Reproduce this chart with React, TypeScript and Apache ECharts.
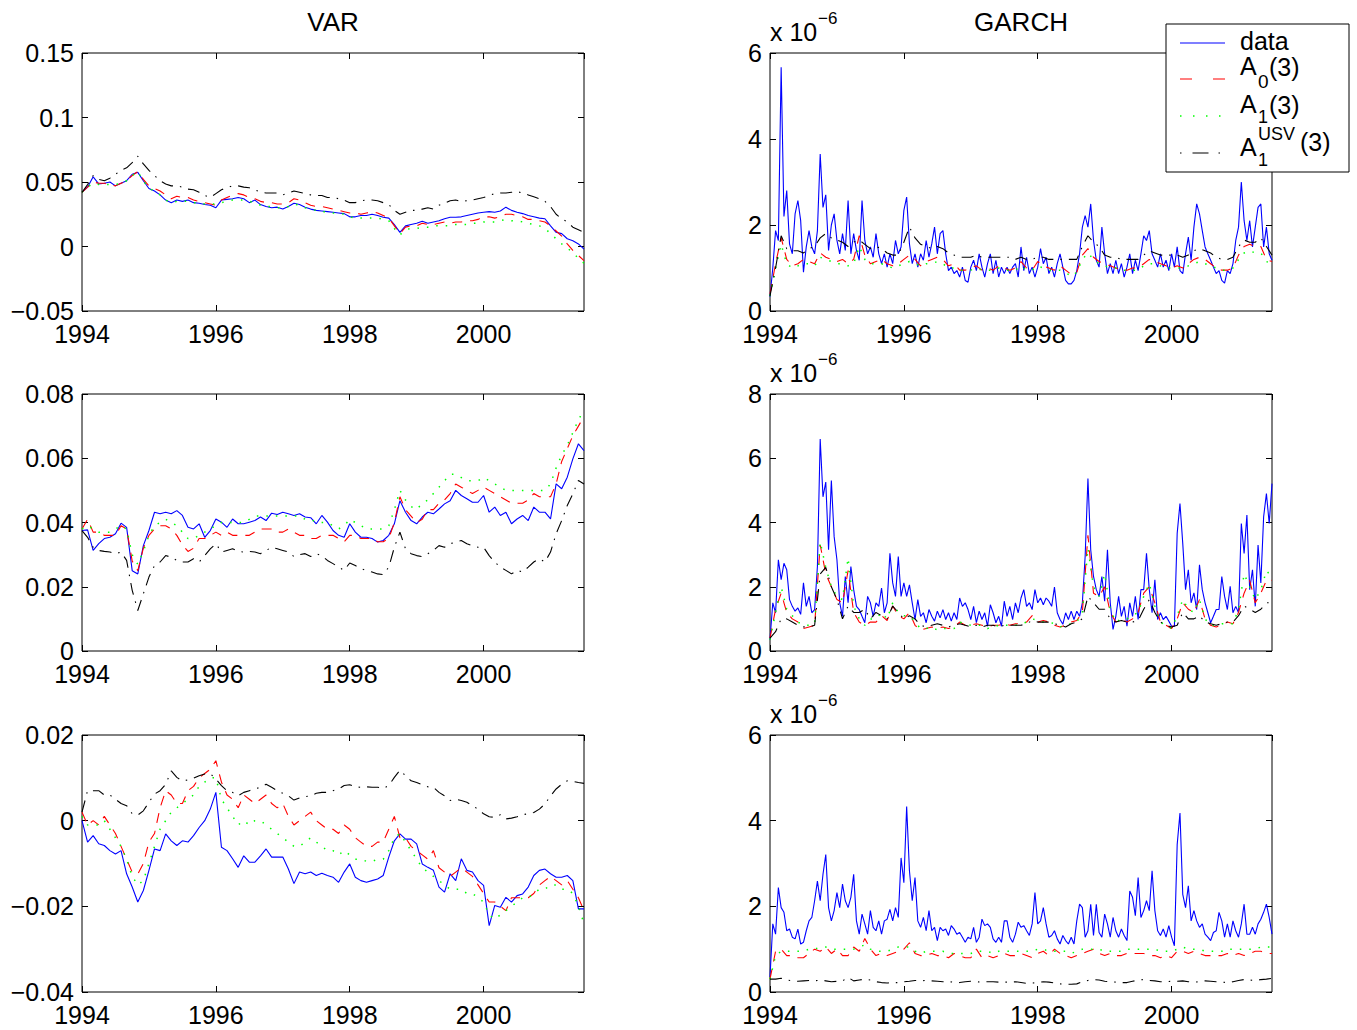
import React, { useEffect, useRef } from "react";
import * as echarts from "echarts";

// ---------- time axis ----------
const START_YEAR = 1994;
const END_YEAR = 2001.5;
const MONTH = 1 / 12; // step of monthly arrays
const HALF_MONTH = 1 / 24; // step of half-monthly arrays
const X_TICKS = [1994, 1996, 1998, 2000];

// ---------- VAR, top panel (monthly, 1994.0 .. 2001.5) ----------
const varTopData = [
  0.042, 0.046, 0.054, 0.0485, 0.049, 0.05, 0.047, 0.049, 0.051, 0.056, 0.0575, 0.051,
  0.045, 0.043, 0.04, 0.036, 0.034, 0.036, 0.035, 0.036, 0.034, 0.0335, 0.0325, 0.032,
  0.03, 0.036, 0.0365, 0.037, 0.038, 0.037, 0.034, 0.036, 0.0325, 0.031, 0.03, 0.0305,
  0.029, 0.031, 0.0335, 0.0325, 0.0305, 0.029, 0.028, 0.0275, 0.027, 0.0265, 0.026, 0.0255,
  0.023, 0.023, 0.024, 0.024, 0.025, 0.024, 0.0227, 0.022, 0.017, 0.011, 0.016, 0.017,
  0.018, 0.0195, 0.018, 0.019, 0.02, 0.0215, 0.0227, 0.0227, 0.023, 0.024, 0.025, 0.026,
  0.0265, 0.027, 0.0265, 0.0275, 0.0305, 0.028, 0.0265, 0.0255, 0.024, 0.023, 0.022, 0.0215,
  0.016, 0.011, 0.01, 0.006, 0.0045, 0.002, -0.002,
];
const varTopA0 = [
  0.042, 0.046, 0.05, 0.049, 0.049, 0.048, 0.047, 0.049, 0.051, 0.055, 0.058, 0.052,
  0.047, 0.045, 0.043, 0.04, 0.037, 0.039, 0.038, 0.038, 0.036, 0.035, 0.034, 0.033,
  0.032, 0.036, 0.038, 0.04, 0.041, 0.04, 0.038, 0.037, 0.035, 0.034, 0.034, 0.033,
  0.033, 0.034, 0.037, 0.036, 0.034, 0.032, 0.031, 0.031, 0.03, 0.029, 0.028, 0.027,
  0.026, 0.026, 0.025, 0.026, 0.027, 0.026, 0.024, 0.022, 0.016, 0.01, 0.015, 0.016,
  0.016, 0.018, 0.017, 0.017, 0.018, 0.019, 0.018, 0.019, 0.019, 0.02, 0.02, 0.021,
  0.023, 0.023, 0.022, 0.023, 0.025, 0.025, 0.024, 0.023, 0.021, 0.021, 0.02, 0.019,
  0.016, 0.012, 0.008, 0.002, -0.003, -0.007, -0.011,
];
const varTopA1 = [
  0.042, 0.046, 0.049, 0.048, 0.048, 0.048, 0.048, 0.049, 0.051, 0.055, 0.058, 0.051,
  0.045, 0.043, 0.04, 0.036, 0.034, 0.035, 0.035, 0.035, 0.034, 0.034, 0.033, 0.033,
  0.033, 0.034, 0.035, 0.036, 0.036, 0.036, 0.035, 0.034, 0.032, 0.031, 0.031, 0.03,
  0.03, 0.031, 0.033, 0.032, 0.03, 0.029, 0.028, 0.027, 0.027, 0.026, 0.026, 0.025,
  0.023, 0.022, 0.022, 0.022, 0.022, 0.022, 0.021, 0.02, 0.014, 0.009, 0.013, 0.014,
  0.014, 0.015, 0.015, 0.016, 0.016, 0.016, 0.016, 0.017, 0.017, 0.017, 0.018, 0.018,
  0.019, 0.019, 0.019, 0.02, 0.021, 0.02, 0.02, 0.019, 0.018, 0.017, 0.016, 0.014,
  0.01, 0.006, 0.002, -0.001, -0.005, -0.009, -0.013,
];
const varTopUSV = [
  0.042, 0.048, 0.055, 0.052, 0.051, 0.053, 0.056, 0.059, 0.061, 0.065, 0.07, 0.064,
  0.059, 0.055, 0.051, 0.0485, 0.047, 0.047, 0.046, 0.0445, 0.044, 0.042, 0.0395, 0.038,
  0.041, 0.044, 0.0455, 0.047, 0.047, 0.046, 0.0455, 0.044, 0.042, 0.0415, 0.0415, 0.0415,
  0.04, 0.0415, 0.043, 0.042, 0.041, 0.04, 0.0395, 0.0395, 0.038, 0.038, 0.037, 0.036,
  0.034, 0.034, 0.0355, 0.036, 0.036, 0.0355, 0.034, 0.0325, 0.028, 0.025, 0.0265, 0.028,
  0.028, 0.029, 0.03, 0.029, 0.032, 0.0335, 0.0355, 0.036, 0.035, 0.0355, 0.036, 0.037,
  0.038, 0.0395, 0.041, 0.0415, 0.0415, 0.042, 0.0425, 0.0415, 0.04, 0.0385, 0.037, 0.035,
  0.031, 0.025, 0.0215, 0.019, 0.015, 0.013, 0.011,
];

// ---------- VAR, middle panel ----------
const varMidData = [
  0.0375, 0.0377, 0.0313, 0.0334, 0.035, 0.0354, 0.0365, 0.0398, 0.0385, 0.025, 0.024, 0.0328,
  0.0375, 0.0432, 0.0427, 0.0432, 0.0427, 0.0437, 0.0422, 0.0385, 0.038, 0.0396, 0.0354, 0.0375,
  0.0411, 0.0401, 0.0385, 0.0411, 0.0396, 0.0396, 0.0401, 0.0406, 0.0417, 0.0406, 0.0429, 0.0425,
  0.0432, 0.0427, 0.0422, 0.0427, 0.0417, 0.0415, 0.0396, 0.0422, 0.0401, 0.0375, 0.036, 0.0354,
  0.0396, 0.037, 0.0354, 0.0354, 0.035, 0.0339, 0.0344, 0.036, 0.0396, 0.0468, 0.0432, 0.0406,
  0.0396, 0.0417, 0.0432, 0.0427, 0.0442, 0.0458, 0.0468, 0.05, 0.0484, 0.0474, 0.0463, 0.0463,
  0.0484, 0.0432, 0.0448, 0.0422, 0.0432, 0.0396, 0.0411, 0.0422, 0.0406, 0.0448, 0.0432, 0.0432,
  0.0411, 0.052, 0.0505, 0.0541, 0.0598, 0.0645, 0.0624,
];
const varMidA0 = [
  0.038, 0.041, 0.037, 0.037, 0.036, 0.036, 0.036, 0.039, 0.038, 0.028, 0.025, 0.032,
  0.036, 0.038, 0.039, 0.039, 0.038, 0.036, 0.033, 0.031, 0.032, 0.035, 0.035, 0.036,
  0.037, 0.036, 0.037, 0.036, 0.036, 0.036, 0.036, 0.037, 0.038, 0.038, 0.038, 0.037,
  0.037, 0.038, 0.037, 0.036, 0.036, 0.035, 0.035, 0.036, 0.036, 0.036, 0.035, 0.034,
  0.036, 0.036, 0.035, 0.035, 0.035, 0.034, 0.034, 0.035, 0.04, 0.048, 0.044, 0.042,
  0.04, 0.041, 0.044, 0.044, 0.046, 0.047, 0.049, 0.052, 0.051, 0.05, 0.049, 0.05,
  0.051, 0.05, 0.049, 0.048, 0.047, 0.046, 0.046, 0.046, 0.047, 0.049, 0.048, 0.048,
  0.048, 0.052, 0.059, 0.063, 0.067, 0.07, 0.073,
];
const varMidA1 = [
  0.038, 0.039, 0.038, 0.037, 0.037, 0.037, 0.038, 0.039, 0.038, 0.03, 0.027, 0.031,
  0.036, 0.039, 0.04, 0.041, 0.04, 0.039, 0.037, 0.035, 0.035, 0.036, 0.037, 0.038,
  0.039, 0.04, 0.04, 0.04, 0.04, 0.04, 0.041, 0.042, 0.042, 0.042, 0.042, 0.042,
  0.042, 0.042, 0.042, 0.042, 0.041, 0.041, 0.04, 0.04, 0.04, 0.039, 0.038, 0.039,
  0.041, 0.04, 0.039, 0.038, 0.038, 0.038, 0.038, 0.039, 0.044, 0.05, 0.047, 0.045,
  0.044, 0.046, 0.047, 0.049, 0.051, 0.053, 0.055, 0.055, 0.054, 0.053, 0.053, 0.053,
  0.054, 0.053, 0.052, 0.051, 0.05, 0.05, 0.05, 0.05, 0.05, 0.05, 0.05, 0.05,
  0.052, 0.057, 0.061, 0.064, 0.068, 0.072, 0.075,
];
const varMidUSV = [
  0.0375, 0.0354, 0.0323, 0.0313, 0.031, 0.0308, 0.0303, 0.0308, 0.0282, 0.0189, 0.0126, 0.0178,
  0.023, 0.0266, 0.0277, 0.0297, 0.0292, 0.0282, 0.0277, 0.0277, 0.0287, 0.0277, 0.0297, 0.0318,
  0.0334, 0.0308, 0.0313, 0.0318, 0.031, 0.0308, 0.031, 0.0308, 0.0303, 0.0313, 0.0323, 0.0318,
  0.0313, 0.0308, 0.0294, 0.03, 0.0303, 0.0294, 0.0303, 0.0297, 0.0282, 0.0272, 0.0261, 0.0251,
  0.0274, 0.0266, 0.0256, 0.0251, 0.0246, 0.024, 0.0238, 0.0261, 0.0323, 0.037, 0.0318, 0.0303,
  0.0297, 0.0294, 0.0303, 0.0313, 0.0328, 0.0323, 0.0334, 0.0339, 0.0344, 0.0334, 0.0328, 0.0323,
  0.0323, 0.0297, 0.0277, 0.0261, 0.0251, 0.024, 0.0251, 0.0246, 0.0261, 0.0277, 0.0287, 0.0277,
  0.0308, 0.0365, 0.0406, 0.0453, 0.0489, 0.0531, 0.052,
];

// ---------- VAR, bottom panel ----------
const varBotData = [
  0, -0.005, -0.0035, -0.0054, -0.0058, -0.007, -0.0078, -0.007, -0.0124, -0.0155, -0.019, -0.0163,
  -0.0116, -0.0066, -0.007, -0.0031, -0.0047, -0.0058, -0.0047, -0.005, -0.0035, -0.0016, 0, 0.0027,
  0.0066, -0.0062, -0.007, -0.0089, -0.0109, -0.0082, -0.0097, -0.0097, -0.0082, -0.0066, -0.0085, -0.0085,
  -0.0085, -0.0113, -0.0147, -0.012, -0.0124, -0.012, -0.0128, -0.0123, -0.0128, -0.0132, -0.0144, -0.012,
  -0.0101, -0.0132, -0.014, -0.0144, -0.014, -0.0136, -0.0128, -0.0085, -0.0047, -0.0031, -0.0043, -0.0043,
  -0.0054, -0.0101, -0.0109, -0.0116, -0.0155, -0.0167, -0.0124, -0.014, -0.0089, -0.0116, -0.012, -0.014,
  -0.0151, -0.0245, -0.0198, -0.0202, -0.0179, -0.019, -0.0175, -0.0171, -0.0155, -0.0128, -0.0116, -0.0113,
  -0.0124, -0.0132, -0.0132, -0.0128, -0.014, -0.0206, -0.0206,
];
const varBotA0 = [
  0.002, -0.001, 0, -0.001, 0.001, -0.001, -0.003, -0.006, -0.009, -0.012, -0.0125, -0.01,
  -0.005, -0.003, 0.003, 0.007, 0.006, 0.004, 0.004, 0.007, 0.008, 0.01, 0.011, 0.012,
  0.014, 0.009, 0.006, 0.005, 0.003, 0.006, 0.005, 0.004, 0.005, 0.006, 0.004, 0.003,
  0.004, 0.001, -0.001, 0, 0.001, 0.002, 0, -0.001, -0.002, -0.002, -0.003, -0.001,
  -0.002, -0.004, -0.005, -0.006, -0.006, -0.005, -0.005, -0.002, 0.001, -0.004, -0.004, -0.006,
  -0.007, -0.008, -0.009, -0.007, -0.011, -0.012, -0.013, -0.012, -0.011, -0.012, -0.013, -0.015,
  -0.017, -0.019, -0.019, -0.02, -0.021, -0.018, -0.018, -0.018, -0.018, -0.017, -0.015, -0.014,
  -0.013, -0.014, -0.015, -0.014, -0.016, -0.018, -0.021,
];
const varBotA1 = [
  0.001, -0.001, -0.001, -0.001, 0, -0.002, -0.004, -0.006, -0.009, -0.013, -0.015, -0.014,
  -0.01, -0.006, -0.002, 0, 0.002, 0.003, 0.004, 0.005, 0.006, 0.008, 0.009, 0.01,
  0.01, 0.005, 0.003, 0.001, -0.001, 0, -0.001, 0, 0, -0.001, -0.002, -0.003,
  -0.004, -0.005, -0.006, -0.006, -0.005, -0.004, -0.005, -0.006, -0.007, -0.007, -0.008, -0.007,
  -0.008, -0.009, -0.009, -0.0095, -0.0095, -0.009, -0.009, -0.007, -0.004, -0.003, -0.005, -0.007,
  -0.009, -0.011, -0.012, -0.013, -0.014, -0.015, -0.016, -0.016, -0.016, -0.017, -0.017, -0.018,
  -0.019, -0.022, -0.023, -0.022, -0.021, -0.02, -0.019, -0.018, -0.018, -0.017, -0.016, -0.016,
  -0.015, -0.015, -0.016, -0.016, -0.017, -0.02, -0.024,
];
const varBotUSV = [
  0.002, 0.007, 0.007, 0.007, 0.006, 0.006, 0.005, 0.004, 0.0035, 0.0016, 0.0013, 0.0023,
  0.0043, 0.0062, 0.007, 0.0085, 0.0116, 0.0101, 0.0093, 0.0095, 0.0099, 0.0105, 0.0109, 0.011,
  0.0097, 0.0082, 0.007, 0.0066, 0.0058, 0.0066, 0.007, 0.0074, 0.0078, 0.0085, 0.0078, 0.007,
  0.0064, 0.0058, 0.0048, 0.0053, 0.0056, 0.0058, 0.0064, 0.0066, 0.0066, 0.007, 0.0074, 0.0082,
  0.0084, 0.0079, 0.0078, 0.0079, 0.0078, 0.0078, 0.0075, 0.0082, 0.0101, 0.0118, 0.0105, 0.0093,
  0.0089, 0.0084, 0.0079, 0.0078, 0.0066, 0.0058, 0.0047, 0.005, 0.0047, 0.0043, 0.0035, 0.0027,
  0.0016, 0.0009, 0.0008, 0.0014, 0.0004, 0.0006, 0.0009, 0.0014, 0.0016, 0.0019, 0.0027, 0.0039,
  0.0058, 0.0074, 0.0085, 0.0093, 0.0092, 0.0089, 0.0087,
];

// ---------- GARCH, top panel (values in units of 1e-6) ----------
const garchTopData = [ // half-monthly
  0.33, 1.0, 1.87, 1.64, 5.67, 2.2, 2.8, 1.56, 1.33, 2.26, 2.57, 2.1, 0.9, 1.49, 1.87, 1.49, 1.33, 1.87, 3.65, 2.41, 2.7, 1.41, 2.0, 2.26,
  1.64, 1.33, 1.8, 1.41, 2.57, 1.33, 1.8, 1.41, 1.18, 2.57, 1.64, 1.33, 1.49, 1.25, 1.8, 1.33, 1.1, 1.33, 1.02, 1.33, 1.1, 1.64, 1.33, 1.49,
  2.34, 2.65, 1.56, 1.1, 1.33, 1.02, 1.33, 1.18, 1.64, 1.25, 1.56, 1.95, 1.33, 1.8, 1.87, 1.33, 0.94, 1.02, 0.87, 0.94, 0.79, 1.02, 0.71, 0.67,
  1.02, 1.18, 0.94, 1.33, 1.02, 0.79, 1.1, 1.33, 0.87, 1.18, 0.79, 1.02, 0.87, 1.02, 0.87, 1.02, 1.1, 0.79, 1.49, 0.94, 1.25, 0.87, 1.02, 0.79,
  1.02, 1.45, 1.1, 1.25, 0.87, 1.02, 0.79, 1.1, 1.33, 1.02, 0.71, 0.63, 0.63, 0.71, 0.94, 1.33, 1.95, 2.22, 1.95, 2.49, 1.64, 1.18, 1.02, 1.95,
  1.33, 0.87, 1.1, 0.87, 1.18, 0.87, 1.1, 0.79, 1.02, 1.33, 0.87, 1.18, 0.94, 1.33, 1.75, 1.64, 1.87, 1.33, 1.18, 1.02, 1.33, 1.02, 1.18, 0.94,
  1.33, 1.02, 1.49, 0.94, 0.87, 1.33, 1.72, 1.18, 1.95, 2.49, 2.26, 1.87, 1.49, 1.33, 1.18, 1.02, 0.87, 0.94, 0.71, 0.65, 0.94, 0.87, 1.1, 1.64,
  1.95, 3.0, 2.1, 1.64, 2.1, 1.49, 1.95, 2.41, 2.49, 1.49, 1.95, 1.33, 1.18,
];
const garchTopA0 = [ // monthly
  0.4, 1.1, 1.7, 1.2, 1.05, 1.1, 1.2, 1.15, 1.1, 1.35, 1.25, 1.2,
  1.15, 1.2, 1.1, 1.2, 1.75, 1.3, 1.1, 1.15, 1.2, 1.1, 1.05, 1.1,
  1.2, 1.3, 1.2, 1.05, 1.15, 1.2, 1.25, 1.2, 1.05, 1.1, 0.95, 0.95,
  1.0, 1.05, 0.95, 1.0, 0.95, 1.05, 1.0, 0.95, 1.0, 1.15, 1.0, 0.95,
  1.15, 1.05, 1.0, 0.95, 1.05, 0.95, 0.85, 0.9, 1.3, 1.45, 1.25, 1.15,
  1.1, 1.05, 1.0, 0.95, 0.95, 1.0, 1.0, 1.1, 1.2, 1.15, 1.1, 1.05,
  1.0, 1.05, 1.0, 1.1, 1.2, 1.25, 1.2, 1.1, 1.0, 0.95, 0.95, 1.0,
  1.3, 1.5, 1.55, 1.5, 1.5, 1.2, 1.15,
];
const garchTopA1 = [
  0.35, 1.0, 1.55, 1.1, 1.0, 1.05, 1.1, 1.1, 1.05, 1.25, 1.2, 1.15,
  1.1, 1.1, 1.05, 1.1, 1.5, 1.2, 1.1, 1.1, 1.1, 1.05, 1.0, 1.05,
  1.1, 1.15, 1.1, 1.05, 1.1, 1.1, 1.15, 1.1, 1.0, 1.0, 0.95, 0.95,
  0.95, 1.0, 0.95, 0.95, 0.95, 1.0, 0.95, 0.95, 0.95, 1.05, 0.95, 0.95,
  1.05, 1.0, 0.95, 0.95, 0.95, 0.9, 0.8, 0.9, 1.2, 1.35, 1.2, 1.1,
  1.05, 1.0, 1.0, 0.95, 0.95, 0.95, 0.95, 1.05, 1.1, 1.1, 1.05, 1.0,
  1.0, 1.0, 1.0, 1.05, 1.1, 1.15, 1.1, 1.05, 1.0, 0.95, 0.95, 1.0,
  1.2, 1.35, 1.4, 1.35, 1.35, 1.15, 1.1,
];
const garchTopUSV = [
  0.35, 1.0, 1.75, 1.45, 1.4, 1.4, 1.35, 1.45, 1.5, 1.7, 1.8, 1.7,
  1.65, 1.6, 1.5, 1.6, 1.65, 1.55, 1.45, 1.5, 1.45, 1.35, 1.3, 1.3,
  1.6, 1.95, 1.7, 1.55, 1.5, 1.45, 1.5, 1.45, 1.35, 1.3, 1.25, 1.25,
  1.25, 1.3, 1.25, 1.25, 1.25, 1.25, 1.25, 1.25, 1.2, 1.25, 1.2, 1.2,
  1.25, 1.25, 1.2, 1.2, 1.2, 1.2, 1.2, 1.2, 1.5, 1.75, 1.6, 1.5,
  1.3, 1.25, 1.25, 1.2, 1.2, 1.2, 1.2, 1.3, 1.4, 1.35, 1.3, 1.3,
  1.3, 1.3, 1.25, 1.3, 1.4, 1.45, 1.4, 1.35, 1.25, 1.2, 1.2, 1.25,
  1.5, 1.65, 1.6, 1.6, 1.7, 1.5, 1.3,
];

// ---------- GARCH, middle panel (units of 1e-6) ----------
const garchMidData = [ // half-monthly
  0.36, 1.5, 1.19, 2.84, 2.22, 2.73, 2.53, 1.6, 1.39, 1.24, 1.34, 1.14, 2.12, 1.39, 1.7, 1.19, 1.29, 2.63, 6.6, 4.8, 5.26, 3.15, 5.31, 3.56,
  2.84, 1.5, 1.08, 2.32, 1.5, 2.63, 1.91, 1.39, 1.29, 1.08, 0.88, 1.7, 1.5, 1.08, 1.5, 1.39, 1.96, 1.19, 1.5, 3.04, 2.12, 1.7, 2.94, 1.7,
  2.12, 1.7, 2.06, 1.5, 0.98, 1.6, 1.08, 1.19, 0.88, 1.29, 1.08, 0.93, 1.24, 1.03, 1.29, 0.98, 1.19, 0.93, 1.19, 0.98, 1.65, 1.39, 1.5, 1.29,
  0.98, 1.39, 0.88, 1.24, 0.98, 1.19, 0.77, 1.44, 1.19, 0.88, 1.08, 0.77, 1.55, 1.08, 1.39, 0.98, 1.5, 1.19, 1.65, 1.91, 1.39, 1.5, 1.29, 1.91,
  1.5, 1.65, 1.44, 1.65, 1.55, 1.39, 1.99, 1.19, 0.98, 0.83, 1.19, 0.98, 1.24, 0.98, 1.24, 1.08, 1.5, 2.94, 5.37, 3.15, 2.32, 1.91, 1.7, 2.32,
  1.55, 3.15, 1.5, 0.67, 1.08, 1.7, 1.08, 1.39, 0.77, 1.5, 1.08, 1.7, 0.98, 1.91, 1.91, 3.04, 1.91, 1.19, 2.22, 0.98, 1.19, 0.98, 1.08, 0.93,
  0.77, 0.77, 3.66, 4.59, 3.35, 1.91, 2.53, 1.5, 1.81, 1.29, 2.68, 1.91, 1.5, 1.19, 0.88, 1.08, 1.29, 1.29, 2.32, 1.7, 1.29, 2.01, 1.19, 1.39,
  1.19, 3.97, 3.04, 4.23, 1.91, 2.53, 1.39, 3.3, 2.12, 4.18, 4.9, 3.97, 5.21,
];
const garchMidA0 = [
  0.4, 1.3, 1.8, 1.2, 1.0, 0.9, 0.7, 0.75, 0.8, 3.3, 2.4, 2.0,
  1.6, 1.5, 2.5, 1.2, 0.9, 0.8, 0.9, 0.9, 1.1, 0.95, 1.4, 1.1,
  1.0, 1.2, 0.8, 0.65, 0.7, 0.75, 0.7, 0.75, 0.7, 0.75, 0.9, 0.8,
  0.8, 0.85, 0.8, 0.75, 0.8, 0.8, 0.85, 0.8, 0.85, 0.85, 0.9, 1.1,
  0.9, 0.95, 0.9, 0.8, 0.75, 0.8, 0.9, 0.95, 1.2, 3.6, 1.8, 1.7,
  2.0, 1.2, 0.9, 1.0, 0.9, 1.0, 1.2, 1.8, 2.0, 1.5, 0.9, 0.8,
  0.7, 1.0, 1.5, 1.3, 1.2, 1.6, 1.0, 0.8, 0.75, 0.8, 0.9, 0.85,
  1.2, 1.8, 2.2, 1.5, 1.8, 2.2, 2.2,
];
const garchMidA1 = [
  0.35, 1.2, 2.0, 1.3, 1.1, 0.9, 0.8, 0.8, 0.85, 3.4, 2.6, 2.0,
  1.7, 1.6, 2.9, 1.4, 1.0, 0.8, 1.0, 1.0, 1.2, 1.0, 1.5, 1.2,
  1.1, 1.1, 0.9, 0.7, 0.7, 0.75, 0.65, 0.7, 0.7, 0.7, 0.9, 0.85,
  0.8, 0.8, 0.8, 0.7, 0.75, 0.8, 0.8, 0.8, 0.8, 0.85, 0.9, 1.0,
  0.95, 0.9, 0.9, 0.85, 0.75, 0.8, 0.85, 0.9, 1.2, 3.2, 2.0, 1.7,
  2.4, 1.3, 0.9, 1.0, 1.0, 1.1, 1.2, 1.7, 2.1, 1.4, 0.9, 0.8,
  0.7, 1.1, 1.6, 1.3, 1.2, 1.6, 1.0, 0.8, 0.8, 0.85, 0.85, 0.85,
  1.3, 2.4, 2.0, 1.6, 1.9, 2.5, 2.3,
];
const garchMidUSV = [
  0.4, 0.6, 1.0, 1.0, 0.9, 0.8, 0.75, 0.75, 0.8, 2.4, 2.6, 2.0,
  1.6, 1.0, 1.4, 1.2, 1.2, 1.3, 1.0, 1.2, 1.1, 1.0, 1.4, 1.2,
  1.0, 1.1, 1.0, 0.8, 0.75, 0.8, 0.85, 0.8, 0.75, 0.8, 0.85, 0.8,
  0.75, 0.8, 0.75, 0.8, 0.8, 0.75, 0.8, 0.8, 0.8, 0.8, 0.85, 0.95,
  0.9, 0.9, 0.9, 0.85, 0.8, 0.75, 0.85, 0.9, 1.0, 1.7, 1.5, 1.3,
  1.3, 1.0, 0.9, 0.95, 0.9, 0.9, 0.95, 1.3, 1.6, 1.2, 0.9, 0.8,
  0.75, 0.8, 1.2, 1.0, 1.0, 1.1, 0.9, 0.85, 0.8, 0.85, 0.9, 0.9,
  1.1, 1.4, 1.3, 1.2, 1.3, 1.5, 1.5,
];

// ---------- GARCH, bottom panel (units of 1e-6) ----------
const garchBotData = [ // half-monthly
  0.35, 1.59, 1.35, 2.44, 1.97, 1.86, 1.43, 1.47, 1.28, 1.24, 1.47, 1.12, 1.16, 1.43, 1.66, 1.74, 2.13, 2.59, 2.13, 2.75, 3.21, 1.97, 1.66, 1.9,
  2.32, 1.97, 2.52, 2.13, 1.97, 2.21, 2.75, 1.66, 1.35, 1.82, 1.59, 1.35, 1.9, 1.51, 1.43, 1.66, 1.35, 1.66, 1.7, 1.93, 1.66, 1.97, 1.74, 3.13,
  2.55, 4.33, 2.83, 2.13, 2.67, 1.66, 1.51, 1.74, 1.43, 1.9, 1.43, 1.51, 1.2, 1.51, 1.43, 1.47, 1.32, 1.55, 1.47, 1.35, 1.39, 1.28, 1.16, 1.28,
  1.24, 1.51, 1.16, 1.28, 1.7, 1.55, 1.59, 1.51, 1.24, 1.16, 1.28, 1.16, 1.66, 1.66, 1.28, 1.16, 1.35, 1.63, 1.51, 1.55, 1.43, 1.32, 1.59, 2.32,
  1.59, 1.66, 1.97, 1.59, 1.28, 1.32, 1.43, 1.24, 1.12, 1.32, 1.2, 1.12, 1.28, 1.12, 1.66, 2.05, 1.97, 1.28, 1.43, 2.05, 1.32, 2.05, 1.39, 1.28,
  1.82, 1.59, 1.28, 1.74, 1.43, 1.28, 1.47, 1.32, 1.2, 2.36, 2.21, 1.78, 2.67, 1.74, 1.9, 2.13, 1.9, 2.83, 1.9, 1.43, 1.32, 1.47, 1.28, 1.55,
  1.28, 1.08, 3.44, 4.18, 2.28, 1.97, 2.48, 1.66, 1.9, 1.66, 1.51, 1.59, 1.35, 1.28, 1.2, 1.39, 1.43, 1.86, 1.66, 1.28, 1.59, 1.28, 1.66, 1.43,
  1.28, 1.59, 2.05, 1.35, 1.35, 1.51, 1.35, 1.59, 1.7, 1.86, 2.05, 1.74, 1.35,
];
const garchBotA0 = [
  0.3, 0.95, 1.0, 0.85, 0.85, 0.8, 0.8, 0.9, 1.0, 0.95, 1.05, 0.9,
  1.0, 0.85, 0.85, 1.05, 0.95, 1.25, 1.0, 0.85, 0.9, 0.85, 0.9, 0.95,
  1.0, 1.15, 0.9, 0.85, 0.85, 0.9, 0.85, 0.85, 0.8, 0.9, 0.85, 0.8,
  0.8, 1.0, 0.8, 0.85, 0.8, 0.85, 0.9, 0.85, 0.85, 0.9, 0.85, 0.8,
  0.9, 0.95, 0.85, 1.0, 0.9, 0.85, 0.8, 0.85, 0.9, 0.95, 1.0, 0.9,
  0.85, 0.9, 0.85, 0.85, 0.9, 0.9, 0.9, 0.9, 0.85, 0.85, 0.8, 0.85,
  0.8, 0.95, 0.95, 0.9, 0.95, 0.9, 0.85, 0.85, 0.85, 0.85, 0.9, 0.85,
  0.9, 0.85, 0.9, 0.95, 0.95, 0.9, 0.9,
];
const garchBotA1 = [
  0.3, 0.85, 0.95, 0.95, 0.95, 0.95, 0.95, 1.0, 1.0, 1.05, 1.05, 1.0,
  1.0, 1.0, 1.0, 1.0, 1.05, 1.1, 1.0, 0.95, 0.95, 0.95, 1.0, 1.05,
  1.05, 1.05, 0.95, 0.9, 0.95, 0.95, 0.95, 0.95, 0.9, 0.9, 0.9, 0.9,
  0.9, 0.95, 0.95, 0.95, 0.9, 0.95, 0.95, 0.95, 0.95, 0.95, 0.95, 0.95,
  1.0, 1.0, 0.95, 0.95, 0.95, 0.95, 0.9, 0.95, 1.0, 1.0, 1.0, 1.0,
  0.95, 0.95, 0.95, 0.95, 1.0, 1.0, 1.0, 1.0, 1.0, 1.0, 0.95, 0.95,
  0.95, 1.0, 1.05, 1.0, 1.0, 1.0, 0.95, 0.95, 0.95, 0.95, 1.0, 1.0,
  1.0, 1.0, 1.0, 1.0, 1.05, 1.05, 1.05,
];
const garchBotUSV = [
  0.3, 0.3, 0.32, 0.28, 0.26, 0.25, 0.26, 0.27, 0.26, 0.28, 0.26, 0.24,
  0.25, 0.26, 0.34, 0.26, 0.28, 0.3, 0.28, 0.24, 0.22, 0.21, 0.22, 0.22,
  0.24, 0.25, 0.27, 0.26, 0.27, 0.26, 0.25, 0.24, 0.24, 0.23, 0.22, 0.24,
  0.25, 0.24, 0.23, 0.24, 0.24, 0.23, 0.23, 0.23, 0.24, 0.22, 0.2, 0.21,
  0.22, 0.24, 0.23, 0.21, 0.19, 0.18, 0.18, 0.19, 0.24, 0.27, 0.29, 0.28,
  0.25, 0.24, 0.23, 0.22, 0.22, 0.25, 0.28, 0.29, 0.27, 0.26, 0.24, 0.24,
  0.25, 0.25, 0.26, 0.24, 0.23, 0.24, 0.26, 0.25, 0.24, 0.23, 0.22, 0.24,
  0.27, 0.29, 0.28, 0.27, 0.29, 0.3, 0.32,
];

// ---------- labels ----------
const COLUMN_TITLES = ["VAR", "GARCH"];
const LEGEND_LABELS = ["data", "A0(3)", "A1(3)", "A1USV(3)"];
const GARCH_SCALE_LABEL = { base: "x 10", exponent: "\u22126" };

// ---------- layout / style ----------
const FONT = '"Liberation Sans", Arial, Helvetica, sans-serif';
const COLORS = { data: "#0000ff", a0: "#ff0000", a1: "#00ff00", usv: "#000000" };
const PLOT_W = 502;
const GRID_BOXES = [
  { left: 82, top: 53, height: 258 },
  { left: 770, top: 53, height: 258 },
  { left: 82, top: 394, height: 257 },
  { left: 770, top: 394, height: 257 },
  { left: 82, top: 735, height: 257 },
  { left: 770, top: 735, height: 257 },
];

const PANELS = [
  { yMin: -0.05, yMax: 0.15, yInt: 0.05, data: varTopData, dataStep: MONTH, a0: varTopA0, a1: varTopA1, usv: varTopUSV },
  { yMin: 0, yMax: 6, yInt: 2, data: garchTopData, dataStep: HALF_MONTH, a0: garchTopA0, a1: garchTopA1, usv: garchTopUSV },
  { yMin: 0, yMax: 0.08, yInt: 0.02, data: varMidData, dataStep: MONTH, a0: varMidA0, a1: varMidA1, usv: varMidUSV },
  { yMin: 0, yMax: 8, yInt: 2, data: garchMidData, dataStep: HALF_MONTH, a0: garchMidA0, a1: garchMidA1, usv: garchMidUSV },
  { yMin: -0.04, yMax: 0.02, yInt: 0.02, data: varBotData, dataStep: MONTH, a0: varBotA0, a1: varBotA1, usv: varBotUSV },
  { yMin: 0, yMax: 6, yInt: 2, data: garchBotData, dataStep: HALF_MONTH, a0: garchBotA0, a1: garchBotA1, usv: garchBotUSV },
];

const toPoints = (vals: number[], step: number) => vals.map((v, i) => [START_YEAR + i * step, v]);

const fmtY = (v: number) => {
  const r = Math.round(v * 1e6) / 1e6;
  return (r === 0 ? "0" : String(r)).replace("-", "\u2212");
};
const fmtX = (v: number) => {
  const r = Math.round(v);
  return Math.abs(v - r) < 1e-6 && X_TICKS.includes(r) ? String(r) : "";
};

function buildOption() {
  const grid: any[] = [];
  const xAxis: any[] = [];
  const yAxis: any[] = [];
  const series: any[] = [];
  const tick = { show: true, inside: true, length: 6, lineStyle: { color: "#000", width: 1 } };
  const noLine = { show: false, onZero: false };

  PANELS.forEach((p, i) => {
    const g = GRID_BOXES[i];
    grid.push({ left: g.left, top: g.top, width: PLOT_W, height: g.height, show: true, borderColor: "#000", borderWidth: 1, backgroundColor: "#fff" });
    const xBase = { gridIndex: i, type: "value", min: START_YEAR, max: END_YEAR, interval: 2, axisLine: noLine, splitLine: { show: false }, axisTick: tick };
    xAxis.push({ ...xBase, position: "bottom", axisLabel: { show: true, color: "#000", fontSize: 25, lineHeight: 20, fontFamily: FONT, margin: 13, formatter: fmtX, showMaxLabel: false } });
    xAxis.push({ ...xBase, position: "top", axisLabel: { show: false } });
    const yBase = { gridIndex: i, type: "value", min: p.yMin, max: p.yMax, interval: p.yInt, axisLine: noLine, splitLine: { show: false }, axisTick: tick };
    yAxis.push({ ...yBase, position: "left", axisLabel: { show: true, color: "#000", fontSize: 25, lineHeight: 20, fontFamily: FONT, margin: 8, formatter: fmtY } });
    yAxis.push({ ...yBase, position: "right", axisLabel: { show: false } });

    const common = { type: "line", xAxisIndex: 2 * i, yAxisIndex: 2 * i, showSymbol: false, symbol: "none", smooth: false, clip: true, silent: true };
    series.push({ ...common, name: "data", data: toPoints(p.data, p.dataStep), lineStyle: { color: COLORS.data, width: 1.1, type: "solid" } });
    series.push({ ...common, name: "A0", data: toPoints(p.a0, MONTH), lineStyle: { color: COLORS.a0, width: 1.1, type: [10, 8] } });
    series.push({ ...common, name: "A1", data: toPoints(p.a1, MONTH), lineStyle: { color: COLORS.a1, width: 1.5, type: [1.5, 8] } });
    series.push({ ...common, name: "USV", data: toPoints(p.usv, MONTH), lineStyle: { color: COLORS.usv, width: 1.1, type: [12, 7, 1.5, 7] } });
  });

  const txt = (text: string, x: number, y: number, size = 25, align = "left") => ({
    type: "text", z: 110, x, y, silent: true,
    style: { text, fontSize: size, fontFamily: FONT, fill: "#000", align, verticalAlign: "middle" },
  });

  const graphic: any[] = [
    txt(COLUMN_TITLES[0], 333, 22, 26, "center"),
    txt(COLUMN_TITLES[1], 1021, 22, 26, "center"),
  ];
  // "x 10^-6" multipliers above GARCH panels
  [53, 394, 735].forEach((top) => {
    graphic.push(txt(GARCH_SCALE_LABEL.base, 770, top - 21, 25));
    graphic.push(txt(GARCH_SCALE_LABEL.exponent, 818, top - 35, 17));
  });

  // legend
  graphic.push({ type: "rect", z: 100, silent: true, shape: { x: 1166, y: 24, width: 183, height: 148 }, style: { fill: "#fff", stroke: "#000", lineWidth: 1 } });
  const legLine = (y: number, color: string, dash: any, w = 1.1) => ({
    type: "line", z: 110, silent: true, shape: { x1: 1180, y1: y, x2: 1225, y2: y }, style: { stroke: color, lineWidth: w, lineDash: dash },
  });
  graphic.push(legLine(43, COLORS.data, null));
  graphic.push(legLine(79, COLORS.a0, [12, 21]));
  graphic.push(legLine(116, COLORS.a1, [1.5, 11.5], 1.5));
  graphic.push(legLine(153, COLORS.usv, [1.5, 11, 16, 10]));
  graphic.push(txt(LEGEND_LABELS[0], 1240, 41));
  graphic.push(txt("A", 1240, 66));
  graphic.push(txt("0", 1258, 81, 19));
  graphic.push(txt("(3)", 1269, 67));
  graphic.push(txt("A", 1240, 104));
  graphic.push(txt("1", 1258, 117, 18));
  graphic.push(txt("(3)", 1269, 105));
  graphic.push(txt("A", 1240, 147));
  graphic.push(txt("USV", 1258, 134, 18));
  graphic.push(txt("1", 1258, 160, 18));
  graphic.push(txt("(3)", 1300, 142));

  return {
    animation: false,
    backgroundColor: "#fff",
    textStyle: { fontFamily: FONT },
    grid, xAxis, yAxis, series, graphic,
  };
}

export default function App() {
  const ref = useRef<HTMLDivElement>(null);
  useEffect(() => {
    document.body.style.margin = "0";
    if (!ref.current) return;
    const chart = echarts.init(ref.current, null, { renderer: "svg" });
    chart.setOption(buildOption() as any);
    return () => chart.dispose();
  }, []);
  return <div ref={ref} style={{ position: "absolute", left: 0, top: 0, width: 1357, height: 1030, background: "#fff" }} />;
}
